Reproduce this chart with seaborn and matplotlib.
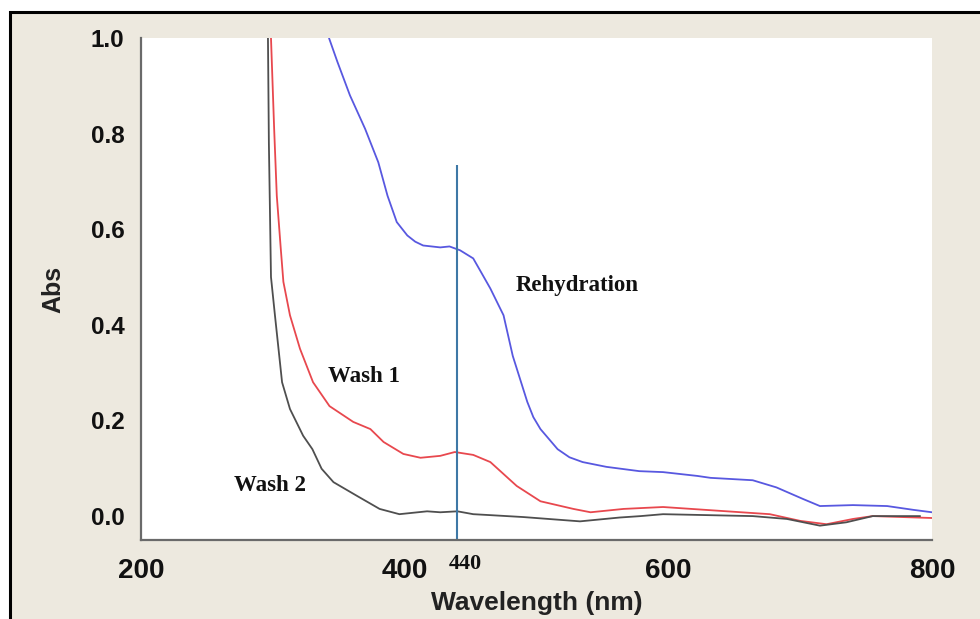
import matplotlib
matplotlib.use("Agg")
import matplotlib.pyplot as plt
from matplotlib.patches import Rectangle
import seaborn as sns
import pandas as pd

# ---- data ----
wash2_wl = [296.3, 297.0, 298.6, 301.6, 307, 313, 323, 330, 337, 346, 364, 381, 396, 417, 427,
            440, 452, 465, 490, 533, 563, 579, 596, 630, 664, 690, 715, 735, 755, 791]
wash2_abs = [1.0, 0.78, 0.50, 0.42, 0.28, 0.224, 0.168, 0.14, 0.099, 0.071, 0.042, 0.015, 0.004,
             0.01, 0.008, 0.01, 0.004, 0.002, -0.002, -0.011, -0.003, 0.0, 0.004, 0.002, 0.0,
             -0.006, -0.02, -0.013, 0.0, 0.0]

wash1_wl = [298.6, 301, 303, 306, 308, 313, 320.6, 330.5, 343, 361, 374, 384, 399, 412, 427, 438,
            452, 465, 485, 503, 528, 541, 566, 596, 639, 677, 700, 720, 740, 755, 800]
wash1_abs = [1.0, 0.81, 0.67, 0.56, 0.49, 0.42, 0.35, 0.28, 0.23, 0.197, 0.182, 0.155, 0.13, 0.122,
             0.126, 0.134, 0.128, 0.113, 0.063, 0.031, 0.015, 0.008, 0.015, 0.019, 0.011, 0.004,
             -0.01, -0.017, -0.006, 0.0, -0.004]

rehyd_wl = [342.6, 349, 358.5, 370, 380, 387, 394, 402, 408, 414, 427, 434, 442, 452, 458, 465,
            475, 482, 493, 497.6, 503, 516, 525, 535, 553, 578, 596, 622, 632, 664, 682, 702,
            715, 740, 766, 786, 800]
rehyd_abs = [1.0, 0.95, 0.88, 0.81, 0.74, 0.67, 0.615, 0.587, 0.574, 0.566, 0.562, 0.564, 0.556,
             0.539, 0.51, 0.476, 0.42, 0.335, 0.239, 0.207, 0.182, 0.14, 0.123, 0.113, 0.103,
             0.094, 0.092, 0.084, 0.08, 0.075, 0.06, 0.036, 0.021, 0.023, 0.021, 0.013, 0.008]

x_ticks = [200, 400, 600, 800]
y_ticks = [0.0, 0.2, 0.4, 0.6, 0.8, 1.0]
marker_wl = 440
marker_top = 0.734

labels = ["Rehydration", "Wash 1", "Wash 2"]
label_pos = [(530.7, 0.482), (369.2, 0.291), (297.9, 0.063)]

# ---- figure ----
sns.set_style("white")
plt.rcParams["font.family"] = ["Liberation Sans", "DejaVu Sans"]

fig = plt.figure(figsize=(9.8, 6.19), dpi=100)
fig.patch.set_facecolor("white")
bg = Rectangle((10 / 980, -0.05), 1.2, (1 - 12 / 619) + 0.05, transform=fig.transFigure,
               facecolor="#EDE9DF", edgecolor="black", linewidth=2.2, zorder=-10)
fig.add_artist(bg)

ax = fig.add_axes([141 / 980, 1 - 540 / 619, (932 - 141) / 980, (540 - 38) / 619])
ax.set_facecolor("white")

df = pd.concat([
    pd.DataFrame({"wl": rehyd_wl, "abs": rehyd_abs, "s": "Rehydration"}),
    pd.DataFrame({"wl": wash1_wl, "abs": wash1_abs, "s": "Wash 1"}),
    pd.DataFrame({"wl": wash2_wl, "abs": wash2_abs, "s": "Wash 2"}),
])
palette = {"Rehydration": "#5858E0", "Wash 1": "#E8484E", "Wash 2": "#4F4F4F"}
sns.lineplot(data=df, x="wl", y="abs", hue="s", palette=palette, estimator=None,
             sort=False, linewidth=1.3, legend=False, ax=ax)

ax.plot([marker_wl, marker_wl], [-0.05, marker_top], color="#3E78A6", linewidth=1.5,
        solid_capstyle="butt")

ax.set_xlim(200, 800)
ax.set_ylim(-0.05, 1.0)
ax.set_xticks(x_ticks)
ax.set_yticks(y_ticks)
ax.set_yticklabels([f"{v:.1f}" for v in y_ticks])

for sp in ["top", "right"]:
    ax.spines[sp].set_visible(False)
for sp in ["left", "bottom"]:
    ax.spines[sp].set_color("#6A6A6A")
    ax.spines[sp].set_linewidth(1.6)

ax.tick_params(axis="both", direction="out", length=6, width=1.4, color="#6A6A6A",
               labelcolor="#111111")
ax.tick_params(axis="x", labelsize=20, pad=7)
ax.tick_params(axis="y", labelsize=17.5, pad=6)
for lab in ax.get_xticklabels() + ax.get_yticklabels():
    lab.set_fontweight("bold")

ax.set_xlabel("Wavelength (nm)", fontsize=19, fontweight="bold", color="#222222", labelpad=5)
ax.set_ylabel("Abs", fontsize=18, fontweight="bold", color="#222222", labelpad=18)

for t, (x, y) in zip(labels, label_pos):
    ax.text(x, y, t, ha="center", va="center", fontsize=16.5, fontweight="bold",
            family=["Liberation Serif", "DejaVu Serif"], color="#111111")

ax.text(marker_wl + 5.8, -0.101, str(marker_wl), ha="center", va="center", fontsize=16,
        fontweight="bold", family=["Liberation Serif", "DejaVu Serif"], color="#111111",
        clip_on=False)

fig.savefig("out.png", dpi=100, facecolor=fig.get_facecolor())
